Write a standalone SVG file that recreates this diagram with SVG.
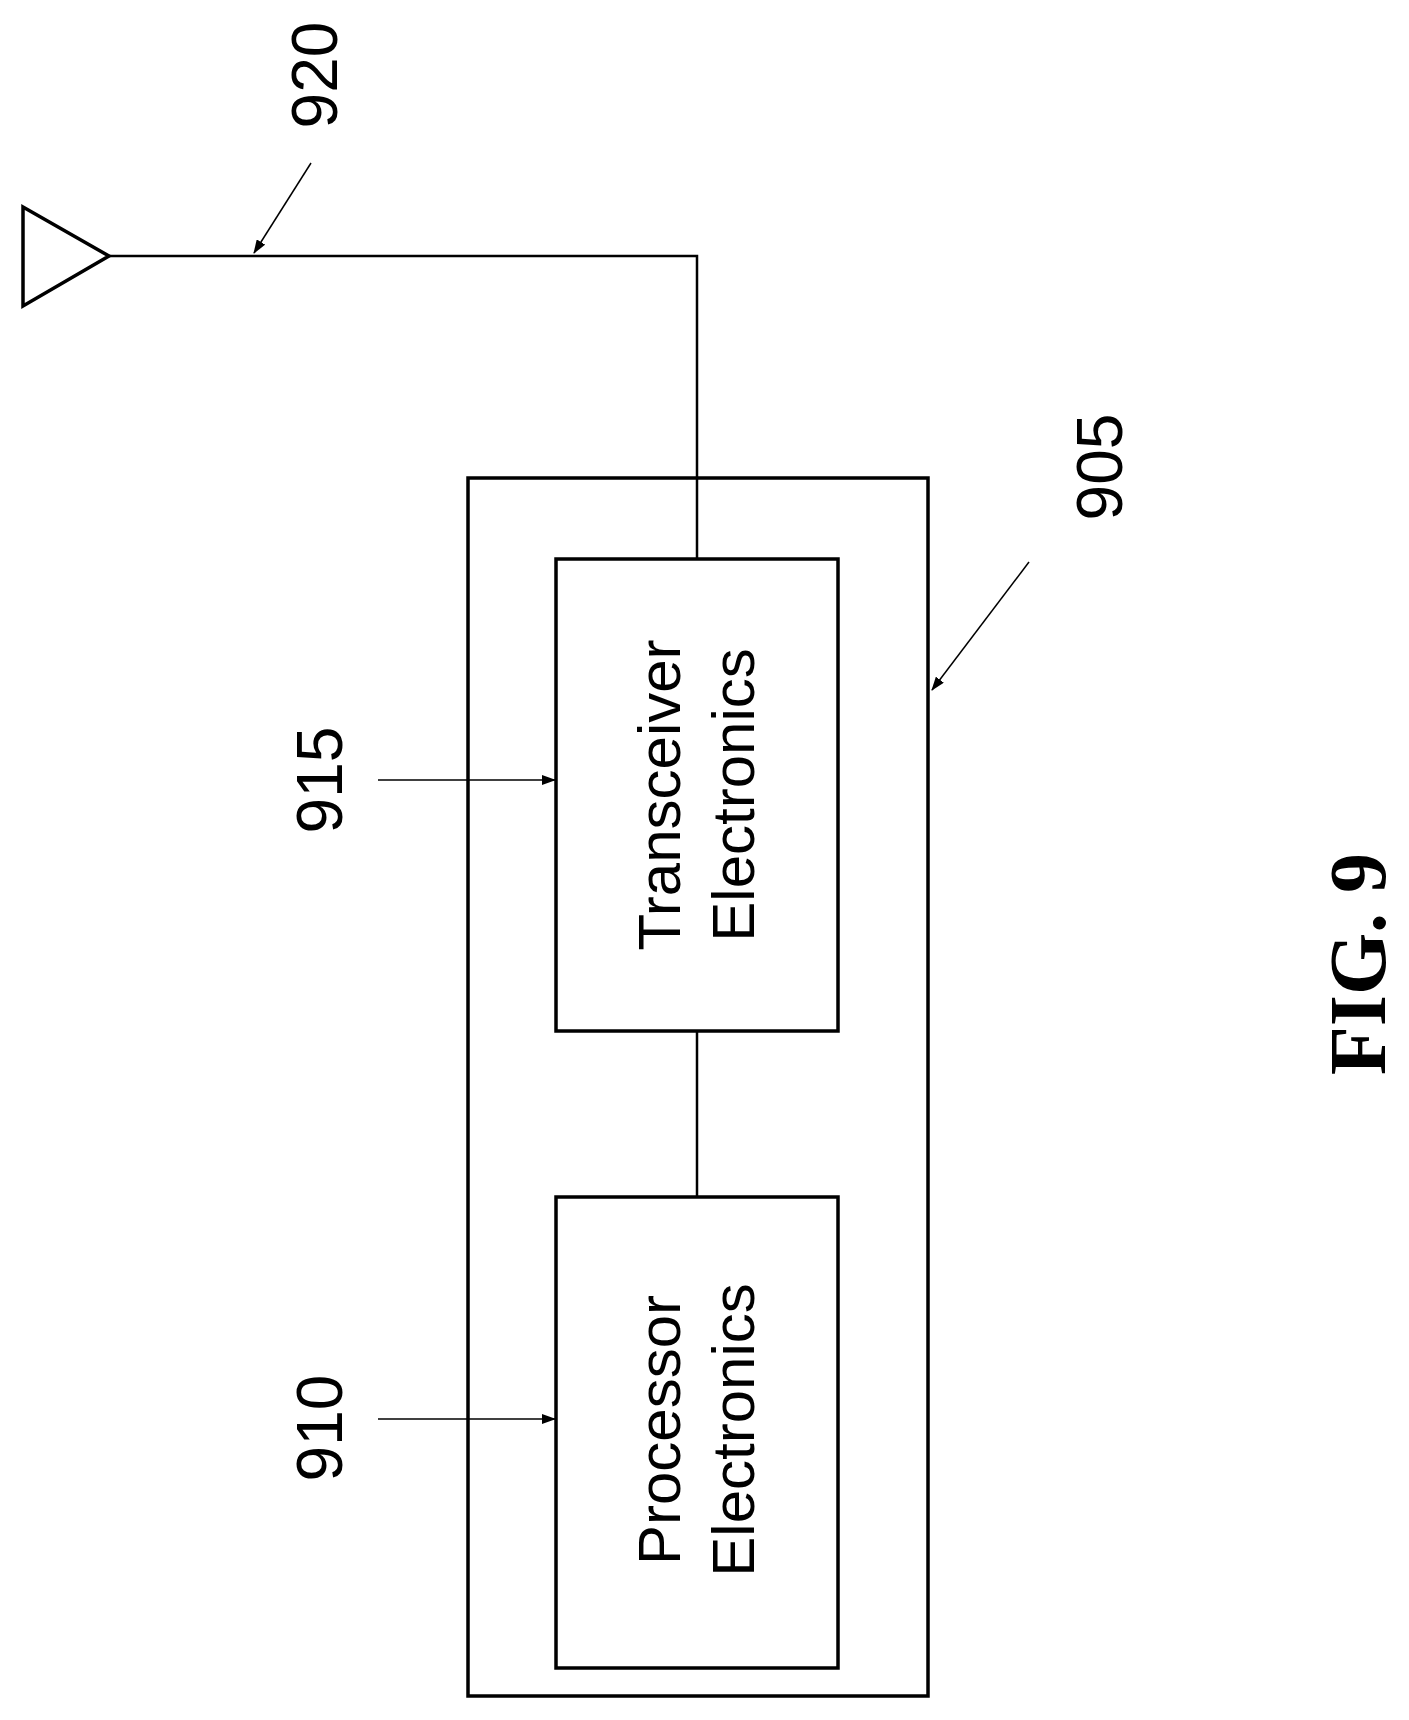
<svg xmlns="http://www.w3.org/2000/svg" width="1409" height="1720" viewBox="0 0 1409 1720">
<style>
.box{fill:none;stroke:#000;stroke-width:3.5}
.ln{fill:none;stroke:#000;stroke-width:2.5}
.ld{fill:none;stroke:#000;stroke-width:1.5}
.t{font-family:"Liberation Sans",Arial,sans-serif;font-size:60px;text-anchor:middle;fill:#000}
.n{font-family:"Liberation Sans",Arial,sans-serif;font-size:64px;text-anchor:middle;fill:#000}
</style>
<defs><marker id="a" markerWidth="14" markerHeight="10" refX="13" refY="5" orient="auto" markerUnits="userSpaceOnUse"><path d="M0,0 L14,5 L0,10 Z" fill="#000"/></marker></defs>
<rect width="1409" height="1720" fill="#fff"/>
<g id="connectors">
<polyline class="ln" points="109,256 697,256 697,559"/>
<line class="ln" x1="697" y1="1031" x2="697" y2="1197"/>
<line class="ld" x1="378" y1="780" x2="555" y2="780" marker-end="url(#a)"/>
<line class="ld" x1="378" y1="1419" x2="555" y2="1419" marker-end="url(#a)"/>
<line class="ld" x1="311" y1="163" x2="254" y2="253" marker-end="url(#a)"/>
<line class="ld" x1="1029" y1="562" x2="932" y2="690" marker-end="url(#a)"/>
</g>
<g id="antenna"><polygon class="box" points="23,207 109,256 23,306"/></g>
<g id="n905"><rect class="box" x="468" y="478" width="460" height="1218"/></g>
<g id="n915"><rect class="box" x="556" y="559" width="282" height="472"/>
<text class="t" transform="translate(680,795) rotate(-90)">Transceiver</text>
<text class="t" transform="translate(754,795) rotate(-90)">Electronics</text></g>
<g id="n910"><rect class="box" x="556" y="1197" width="282" height="471"/>
<text class="t" transform="translate(680,1430) rotate(-90)">Processor</text>
<text class="t" transform="translate(754,1430) rotate(-90)">Electronics</text></g>
<g id="labels">
<text class="n" transform="translate(337,75) rotate(-90)">920</text>
<text class="n" transform="translate(342,780) rotate(-90)">915</text>
<text class="n" transform="translate(342,1428) rotate(-90)">910</text>
<text class="n" transform="translate(1122,467) rotate(-90)">905</text>
<text transform="translate(1385,964) rotate(-90)" font-family="'Liberation Serif',serif" font-weight="bold" font-size="80" text-anchor="middle">FIG. 9</text>
</g>
</svg>
